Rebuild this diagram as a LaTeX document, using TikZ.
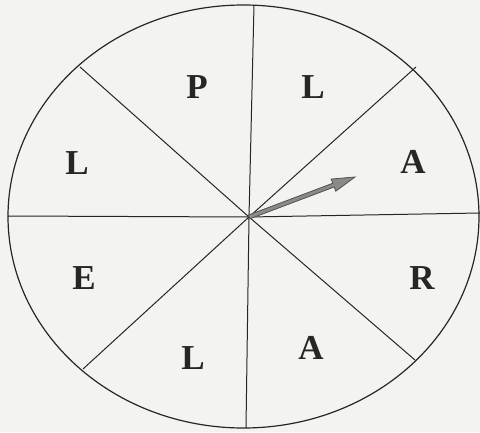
\documentclass[tikz,border=0pt]{standalone}
\usepackage{fontspec}
\setmainfont{Liberation Serif}
\usetikzlibrary{calc}

\definecolor{paper}{HTML}{F3F3EF}
\definecolor{ink}{HTML}{262626}
\definecolor{pointer}{HTML}{8A8A86}

\begin{document}
\begin{tikzpicture}[
    x=1pt, y=1pt,
    rim/.style={draw=ink, line width=1.2pt},
    spoke/.style={draw=ink, line width=1pt},
    letter/.style={
        font=\fontsize{35}{35}\selectfont\bfseries,
        text=ink,
        inner sep=0pt
    },
    needle/.style={draw=ink!80, fill=pointer, line width=0.8pt, line join=miter}
]

% Paper
\fill[paper] (0,0) rectangle (480,432);
\useasboundingbox (0,0) rectangle (480,432);

% Wheel
\coordinate (wheel) at (243.5,215.5);
\draw[rim] (wheel) ellipse [x radius=235.5, y radius=211.5];

% Hub and rim points of the spokes
\coordinate (hub) at (249,215);
\coordinate (n)  at (254,427);
\coordinate (s)  at (246,4);
\coordinate (w)  at (8,216);
\coordinate (e)  at (480,219);
\coordinate (nw) at (80,365);
\coordinate (ne) at (416,365);
\coordinate (se) at (415,72);
\coordinate (sw) at (83,63);

% Spokes
\foreach \p in {n, s, w, e, nw, ne, se, sw}
    \draw[spoke] (hub) -- (\p);

% Sector letters
\node[letter] (p)  at (197,345) {P};
\node[letter] (l1) at (313,345) {L};
\node[letter] (a1) at (413,270) {A};
\node[letter] (r)  at (422,154) {R};
\node[letter] (a2) at (311,84)  {A};
\node[letter] (l2) at (193,74)  {L};
\node[letter] (e1) at (84,154)  {E};
\node[letter] (l3) at (77,269)  {L};

% Pointer
\coordinate (tip) at (355,255);
\coordinate (base) at ($(tip)!23pt!(hub)$);
\draw[needle]
    ($(hub)!2pt!90:(tip)$) --
    ($(base)!2pt!-90:(hub)$) --
    ($(base)!6.5pt!-90:(hub)$) --
    (tip) --
    ($(base)!6.5pt!90:(hub)$) --
    ($(base)!2pt!90:(hub)$) --
    ($(hub)!2pt!-90:(tip)$) -- cycle;

\end{tikzpicture}
\end{document}
